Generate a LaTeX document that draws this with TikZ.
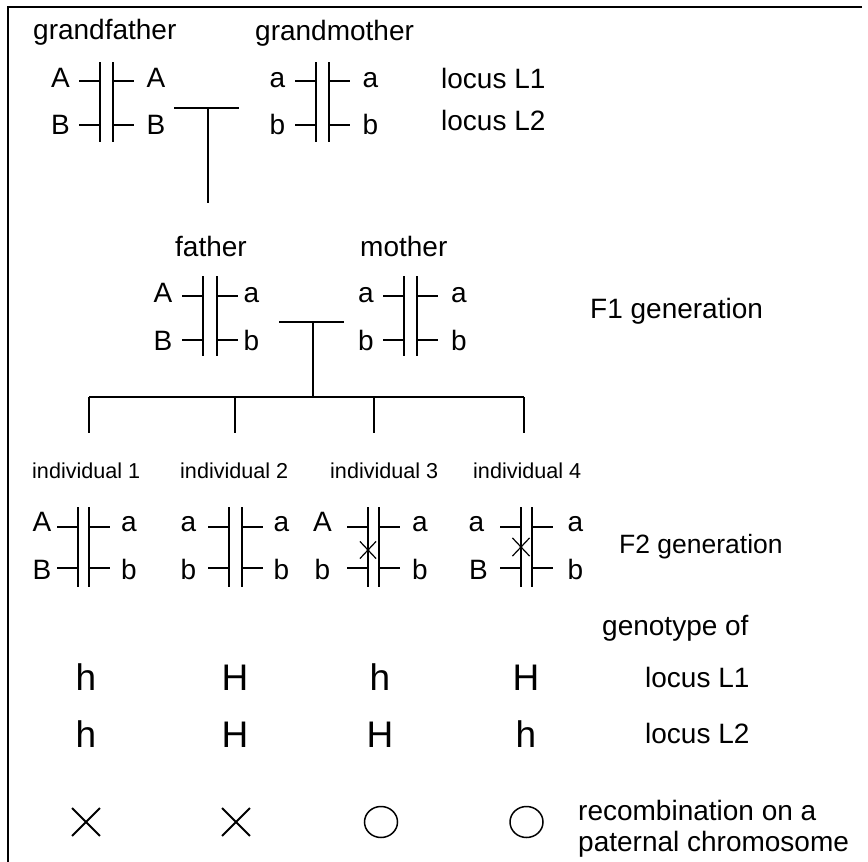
\documentclass[tikz,border=0pt]{standalone}
\usepackage{fontspec}
\setmainfont{Liberation Sans}
\usetikzlibrary{shapes.misc,shapes.geometric}

\newcommand\fsz[1]{\fontsize{#1}{#1}\selectfont}

% pair of homologous chromosomes: #1 name, #2 left line x, #3 right line x,
% #4 top y, #5 first locus y, #6 second locus y
\newcommand\chrpair[6]{%
  \coordinate (#1-lt) at (#2,#4);
  \coordinate (#1-lb) at (#2,#4+80);
  \coordinate (#1-rt) at (#3,#4);
  \coordinate (#1-rb) at (#3,#4+80);
  \coordinate (#1-l1) at (#2-21,#5);
  \coordinate (#1-m1) at (#2,#5);
  \coordinate (#1-l2) at (#2-21,#6);
  \coordinate (#1-m2) at (#2,#6);
  \coordinate (#1-n1) at (#3,#5);
  \coordinate (#1-r1) at (#3+21,#5);
  \coordinate (#1-n2) at (#3,#6);
  \coordinate (#1-r2) at (#3+21,#6);
  \draw[chrom] (#1-lt) -- (#1-lb);
  \draw[chrom] (#1-rt) -- (#1-rb);
  \draw[chrom] (#1-l1) -- (#1-m1);
  \draw[chrom] (#1-l2) -- (#1-m2);
  \draw[chrom] (#1-n1) -- (#1-r1);
  \draw[chrom] (#1-n2) -- (#1-r2);
}
% allele letter: #1 name, #2 x centre, #3 baseline y, #4 letter
\newcommand\allele[4]{\node[allelebox] (#1) at (#2,#3) {#4};}

\begin{document}
\begin{tikzpicture}[x=1pt,y=-1pt,
  chrom/.style={line width=1.8pt},
  link/.style={line width=1.8pt},
  frame/.style={line width=2pt},
  allelebox/.style={inner sep=0pt, anchor=base, font=\fsz{28}},
  lbl/.style={inner sep=0pt, anchor=base west, font=\fsz{28}},
  geno/.style={inner sep=0pt, anchor=base, font=\fsz{37}},
  recomb/.style={draw, cross out, inner sep=0pt, minimum size=26pt, line width=1.8pt},
  norecomb/.style={draw, ellipse, inner sep=0pt, minimum width=33pt, minimum height=31pt, line width=1.5pt},
  xover/.style={draw, cross out, inner sep=0pt, minimum width=15pt, minimum height=16pt, line width=1.2pt}]

\fill[white] (0,0) rectangle (868,862);
\useasboundingbox (0,0) rectangle (868,862);

% frame
\coordinate (fTL) at (8,7);
\coordinate (fTR) at (862,7);
\coordinate (fBL) at (8,862);
\draw[frame] (fTR) -- (fTL) -- (fBL);

% ---- grandparents ----
\node[lbl] (gfather) at (33,39) {grandfather};
\node[lbl] (gmother) at (255,40) {grandmother};
\chrpair{gf}{100}{113}{62}{81}{125}
\chrpair{gm}{316}{329}{62}{81}{125}
\allele{gfA1}{60.5}{87}{A}
\allele{gfA2}{156}{87}{A}
\allele{gfB1}{60.5}{134}{B}
\allele{gfB2}{156}{134}{B}
\allele{gma1}{277.5}{87}{a}
\allele{gma2}{370.5}{87}{a}
\allele{gmb1}{277.5}{134}{b}
\allele{gmb2}{370.5}{134}{b}
\node[lbl] (locA) at (441,88) {locus L1};
\node[lbl] (locB) at (441,130) {locus L2};

\coordinate (gpL) at (174,108);
\coordinate (gpR) at (239,108);
\coordinate (gpM) at (208,108);
\coordinate (gpD) at (208,203);
\draw[link] (gpL) -- (gpR);
\draw[link] (gpM) -- (gpD);

% ---- parents (F1) ----
\node[lbl] (father) at (175,256) {father};
\node[lbl] (mother) at (360,256) {mother};
\chrpair{fa}{203}{217}{276}{296}{340}
\chrpair{mo}{404}{417}{276}{296}{340}
\allele{faA}{163}{302}{A}
\allele{faa}{251.5}{302}{a}
\allele{faB}{163}{350}{B}
\allele{fab}{251.5}{350}{b}
\allele{moa1}{366}{302}{a}
\allele{moa2}{459}{302}{a}
\allele{mob1}{366}{350}{b}
\allele{mob2}{459}{350}{b}
\node[lbl] (fone) at (590,318) {F1 generation};

\coordinate (pL) at (279,322);
\coordinate (pR) at (344,322);
\coordinate (pM) at (313,322);
\coordinate (pD) at (313,397);
\draw[link] (pL) -- (pR);
\draw[link] (pM) -- (pD);

% sibship line and drops to the four children
\coordinate (s1) at (89,397);
\coordinate (s2) at (235,397);
\coordinate (s3) at (374,397);
\coordinate (s4) at (524,397);
\coordinate (c1) at (89,433);
\coordinate (c2) at (235,433);
\coordinate (c3) at (374,433);
\coordinate (c4) at (524,433);
\draw[link] (s1) -- (s4);
\draw[link] (s1) -- (c1);
\draw[link] (s2) -- (c2);
\draw[link] (s3) -- (c3);
\draw[link] (s4) -- (c4);

% ---- children (F2) ----
\node[lbl, font=\fsz{21.6}] (ind1) at (32,478) {individual 1};
\node[lbl, font=\fsz{21.6}] (ind2) at (180,478) {individual 2};
\node[lbl, font=\fsz{21.6}] (ind3) at (330,478) {individual 3};
\node[lbl, font=\fsz{21.6}] (ind4) at (473,478) {individual 4};

\chrpair{ia}{78}{89}{507}{527}{568}
\chrpair{ib}{229}{242}{507}{527}{568}
\chrpair{ic}{368}{379}{507}{527}{568}
\chrpair{id}{521}{532}{507}{527}{568}

\allele{iaA}{42}{531}{A}
\allele{iaa}{129}{531}{a}
\allele{iaB}{42}{579}{B}
\allele{iab}{129}{579}{b}
\allele{iba1}{188.5}{531}{a}
\allele{iba2}{281.5}{531}{a}
\allele{ibb1}{188.5}{579}{b}
\allele{ibb2}{281.5}{579}{b}
\allele{icA}{322.5}{531}{A}
\allele{ica}{420}{531}{a}
\allele{icb1}{322.5}{579}{b}
\allele{icb2}{420}{579}{b}
\allele{ida1}{476.5}{531}{a}
\allele{ida2}{575.5}{531}{a}
\allele{idB}{478.5}{579}{B}
\allele{idb}{575.5}{579}{b}

% crossing-over marks on the paternal chromosome
\node[xover] (xc) at (368,550) {};
\node[xover, minimum width=16pt, minimum height=17pt] (xd) at (521,547) {};

\node[lbl, font=\fsz{26.5}] (ftwo) at (619,553) {F2 generation};

% ---- genotype table ----
\node[lbl] (gtype) at (602,635) {genotype of};

\node[geno] (g11) at (86,690) {h};
\node[geno] (g12) at (235,690) {H};
\node[geno] (g13) at (380,690) {h};
\node[geno] (g14) at (526,690) {H};
\node[lbl] (l1) at (645,687) {locus L1};

\node[geno] (g21) at (86,747) {h};
\node[geno] (g22) at (235,747) {H};
\node[geno] (g23) at (380,747) {H};
\node[geno] (g24) at (526,747) {h};
\node[lbl] (l2) at (645,743) {locus L2};

\node[recomb] (r1) at (86,822) {};
\node[recomb] (r2) at (236,822) {};
\node[norecomb] (r3) at (381,822) {};
\node[norecomb] (r4) at (526.5,822) {};
\node[lbl] (rtxt1) at (578,820) {recombination on a};
\node[lbl] (rtxt2) at (578,851) {paternal chromosome};

\end{tikzpicture}
\end{document}
